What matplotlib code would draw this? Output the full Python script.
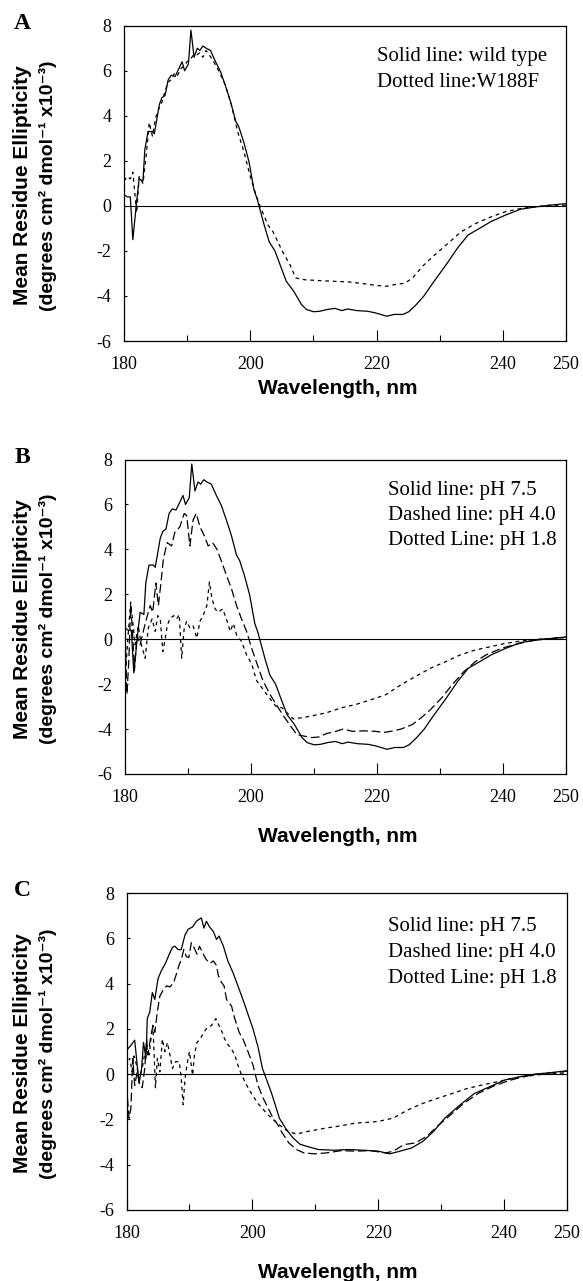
import matplotlib
matplotlib.use("Agg")
import matplotlib.pyplot as plt

plt.rcParams["axes.unicode_minus"] = False

# panel A: wild type (solid) and W188F (dotted)
wt_x = [180.0, 180.5, 181.0, 181.4, 182.0, 182.4, 183.0, 183.3, 183.8, 184.5, 184.8, 185.6,
        186.0, 186.5, 187.0, 187.5, 188.1, 188.7, 189.2, 189.6, 190.2, 190.6, 191.1, 191.6,
        192.0, 192.5, 193.0, 193.7, 194.5, 195.3, 196.1, 196.9, 197.7, 198.2, 199.0, 199.8,
        200.6, 201.1, 202.2, 203.0, 203.9, 204.7, 205.7, 206.9, 208.1, 208.9, 210.0, 211.0,
        212.2, 213.4, 214.5, 215.4, 216.9, 218.6, 219.8, 221.6, 222.8, 224.2, 225.1, 226.3,
        227.5, 228.9, 231.0, 232.8, 234.5, 236.3, 238.1, 240.4, 242.8, 245.1, 247.5, 250.0]
wt_y = [0.5, 0.4, 0.4, -1.5, 0.2, 1.2, 1.1, 2.5, 3.3, 3.3, 3.2, 4.5,
        4.8, 4.9, 5.6, 5.8, 5.75, 6.1, 6.4, 6.0, 6.3, 7.8, 6.6, 7.0,
        6.9, 7.1, 7.0, 6.9, 6.4, 5.95, 5.3, 4.6, 3.75, 3.5, 2.8, 1.95,
        0.7, 0.3, -0.85, -1.6, -2.0, -2.6, -3.35, -3.8, -4.38, -4.6, -4.7, -4.68,
        -4.6, -4.55, -4.65, -4.58, -4.65, -4.68, -4.75, -4.9, -4.82, -4.82, -4.7, -4.38,
        -4.0, -3.43, -2.62, -1.88, -1.29, -1.0, -0.7, -0.41, -0.15, -0.05, 0.03, 0.1]

w188f_x = [180.0, 180.5, 181.0, 181.4, 182.0, 182.4, 183.0, 183.5, 184.0, 184.5, 185.0, 185.5,
           186.0, 186.5, 187.0, 187.5, 188.0, 188.5, 189.0, 189.5, 190.0, 190.5, 191.0, 191.5,
           192.0, 192.5, 193.0, 193.5, 194.0, 195.0, 196.0, 197.0, 198.0, 199.0, 200.0, 201.0,
           201.6, 202.8, 203.6, 205.1, 206.3, 207.2, 208.6, 211.0, 213.4, 215.7, 218.1, 219.8,
           221.6, 222.8, 224.5, 225.7, 227.5, 229.2, 231.0, 233.4, 235.7, 238.1, 240.4, 242.8,
           245.1, 247.5, 250.0]
w188f_y = [1.1, 1.3, 1.2, 1.5, -0.3, 1.3, 1.0, 2.2, 3.7, 3.1, 3.9, 4.3,
           4.6, 5.1, 5.5, 5.6, 5.9, 5.8, 6.1, 6.2, 6.4, 6.5, 6.7, 6.7,
           6.8, 6.6, 6.9, 6.7, 6.5, 6.0, 5.4, 4.5, 3.3, 2.4, 1.3, 0.4,
           -0.05, -0.85, -1.15, -2.03, -2.62, -3.2, -3.28, -3.32, -3.35, -3.38, -3.46, -3.53,
           -3.57, -3.5, -3.43, -3.2, -2.62, -2.18, -1.74, -1.15, -0.78, -0.49, -0.26, -0.12,
           -0.04, 0.03, 0.03]

# panel B: pH 7.5 is the wild type curve above
b40_x = [180.0, 180.1, 180.3, 180.6, 180.9, 181.2, 181.5, 181.9, 182.4, 182.9, 183.4, 184.0,
         184.4, 184.9, 185.3, 185.7, 186.1, 186.7, 187.4, 187.9, 188.7, 189.4, 189.8, 190.3,
         190.8, 191.3, 191.9, 192.6, 193.2, 193.9, 194.6, 195.4, 196.1, 196.9, 197.7, 198.5,
         199.3, 200.1, 200.9, 201.9, 203.0, 204.0, 204.9, 206.1, 207.3, 208.2, 209.6, 210.8,
         212.0, 213.5, 214.6, 216.1, 217.9, 219.7, 221.1, 222.6, 223.8, 225.6, 227.0, 228.5,
         230.3, 232.0, 233.8, 235.6, 237.3, 239.7, 242.0, 244.4, 246.2, 247.9, 250.0]
b40_y = [0.3, -0.5, -2.45, -1.0, 1.5, 0.3, -1.4, 0.2, -0.25, 0.35, 0.9, 1.5,
         1.2, 2.5, 1.5, 2.5, 3.6, 4.3, 4.15, 4.75, 5.0, 5.6, 5.5, 4.15,
         5.3, 5.6, 5.0, 4.6, 4.15, 4.3, 4.0, 3.4, 2.85, 2.25, 1.5, 0.9,
         0.35, -0.4, -1.05, -1.85, -2.45, -2.9, -3.3, -3.8, -4.25, -4.3, -4.38, -4.35,
         -4.2, -4.1, -4.0, -4.1, -4.08, -4.1, -4.15, -4.08, -4.0, -3.8, -3.5, -3.13,
         -2.6, -2.0, -1.44, -1.0, -0.7, -0.41, -0.23, -0.07, 0.0, 0.03, 0.1]

b18_x = [180.0, 180.5, 180.9, 181.3, 181.6, 182.1, 182.6, 183.2, 183.7, 184.3, 184.8, 185.2,
         185.6, 186.0, 186.4, 186.7, 187.1, 187.7, 188.2, 188.6, 189.0, 189.4, 189.8, 190.3,
         190.8, 191.4, 191.9, 192.4, 193.0, 193.4, 193.8, 194.3, 194.8, 195.5, 196.1, 196.7,
         197.2, 197.7, 198.5, 199.3, 200.1, 200.9, 201.7, 202.5, 203.3, 204.0, 204.9, 206.7,
         207.9, 209.6, 212.0, 214.4, 216.7, 219.1, 221.4, 223.8, 226.1, 228.5, 230.9, 233.2,
         235.6, 237.9, 240.3, 242.6, 245.0, 247.4, 250.0]
b18_y = [-1.8, 0.2, 1.65, 0.6, -0.25, 0.6, -0.25, -0.85, 0.5, 0.9, 0.35, 1.05,
         0.9, -0.55, 0.05, 0.6, 0.9, 1.05, 0.9, 1.1, -0.85, 0.5, 0.8, 0.5,
         0.6, 0.05, 0.8, 1.05, 1.5, 2.55, 1.8, 1.35, 1.2, 1.35, 0.9, 0.35,
         0.7, 0.2, -0.1, -0.7, -1.1, -1.85, -2.15, -2.45, -2.75, -3.0, -3.05, -3.55,
         -3.5, -3.42, -3.27, -3.05, -2.9, -2.69, -2.47, -2.03, -1.66, -1.29, -1.0, -0.7,
         -0.48, -0.34, -0.19, -0.09, -0.01, 0.03, 0.07]

# panel C
c75_x = [180.0, 180.7, 181.3, 181.7, 182.0, 182.4, 182.7, 183.1, 183.3, 183.7, 184.1, 184.5,
         185.0, 185.5, 186.2, 186.8, 187.3, 187.7, 188.2, 188.7, 189.3, 189.8, 190.5, 191.1,
         191.6, 191.9, 192.3, 192.7, 193.2, 193.8, 194.3, 194.7, 195.4, 196.1, 196.9, 197.7,
         198.5, 199.3, 200.1, 200.9, 201.6, 202.2, 203.0, 203.8, 204.3, 205.3, 206.4, 207.6,
         208.8, 210.5, 212.9, 215.3, 217.6, 220.0, 221.8, 223.5, 225.3, 227.1, 228.8, 230.6,
         233.0, 235.3, 237.7, 240.1, 242.4, 244.8, 247.2, 250.0]
c75_y = [1.05, 1.27, 1.5, 0.4, -0.4, 0.25, 1.4, 0.7, 2.45, 2.75, 3.6, 3.3,
         4.2, 4.55, 4.9, 5.3, 5.6, 5.65, 5.5, 5.5, 6.15, 6.4, 6.5, 6.75,
         6.85, 6.9, 6.45, 6.75, 6.5, 6.3, 5.95, 6.1, 5.65, 5.0, 4.5, 3.9,
         3.3, 2.65, 2.0, 1.2, 0.25, -0.2, -0.8, -1.5, -1.95, -2.4, -2.8, -3.1,
         -3.2, -3.33, -3.36, -3.33, -3.36, -3.4, -3.52, -3.4, -3.26, -2.97, -2.53, -1.94,
         -1.36, -0.85, -0.56, -0.26, -0.12, 0.0, 0.06, 0.15]

c40_x = [180.0, 180.4, 180.7, 181.0, 181.3, 181.7, 182.1, 182.5, 182.9, 183.2, 183.4, 183.8,
         184.2, 184.5, 184.9, 185.3, 185.8, 186.4, 186.9, 187.5, 187.9, 188.4, 188.7, 189.1,
         189.5, 189.9, 190.3, 190.8, 191.2, 191.6, 192.2, 192.7, 193.3, 193.8, 194.3, 194.6,
         195.1, 195.5, 195.9, 196.7, 197.2, 197.9, 198.5, 199.3, 200.1, 200.9, 201.7, 202.5,
         203.3, 204.1, 204.6, 205.8, 207.0, 208.2, 209.9, 211.7, 214.1, 216.4, 218.8, 221.2,
         222.4, 224.1, 225.9, 227.7, 229.4, 231.2, 233.6, 235.9, 238.3, 240.7, 243.0, 245.4,
         247.7, 250.0]
c40_y = [-0.5, -1.95, -1.5, 0.7, -0.5, 0.1, -0.5, -0.6, 0.25, 1.55, 0.85, 1.55,
         2.15, 1.85, 2.75, 3.45, 3.7, 3.9, 3.85, 4.05, 4.4, 4.85, 5.05, 5.5,
         5.2, 5.15, 5.8, 5.55, 5.3, 5.65, 5.3, 5.05, 4.9, 5.0, 4.8, 4.35,
         4.05, 3.9, 3.3, 3.0, 2.45, 1.85, 1.55, 1.0, 0.4, -0.5, -1.05, -1.5,
         -1.95, -2.25, -2.53, -3.04, -3.33, -3.48, -3.52, -3.48, -3.38, -3.4, -3.38, -3.48,
         -3.4, -3.11, -3.04, -2.75, -2.3, -1.87, -1.29, -0.85, -0.53, -0.29, -0.12, 0.0,
         0.06, 0.13]

c18_x = [180.0, 180.5, 180.9, 181.2, 181.6, 182.0, 182.5, 183.1, 183.6, 184.0, 184.2, 184.6,
         184.9, 185.3, 185.7, 186.1, 186.5, 186.9, 187.3, 187.8, 188.4, 188.7, 189.0, 189.3,
         189.6, 190.0, 190.5, 190.8, 191.2, 191.7, 192.3, 192.8, 193.5, 194.2, 194.7, 195.2,
         195.6, 196.2, 196.7, 197.2, 197.7, 198.3, 199.5, 200.9, 202.5, 204.1, 205.5, 207.0,
         208.8, 211.7, 214.1, 216.4, 218.8, 220.0, 222.4, 224.7, 227.1, 229.4, 231.8, 234.2,
         236.5, 238.9, 241.3, 243.6, 246.0, 248.3, 250.0]
c18_y = [0.3, 0.7, 0.1, 0.8, 0.4, -0.2, 0.25, 1.27, 0.85, 1.85, 2.15, -0.6,
         0.7, 0.1, 1.55, 1.0, 1.4, 0.85, 0.25, 0.55, 0.55, -0.2, -1.35, -0.2,
         0.4, 1.0, -0.05, 0.85, 1.4, 1.55, 1.85, 2.05, 2.15, 2.45, 2.15, 1.85,
         1.55, 1.27, 1.1, 0.85, 0.4, -0.05, -0.7, -1.3, -1.8, -2.2, -2.5, -2.65,
         -2.53, -2.38, -2.28, -2.16, -2.12, -2.09, -1.94, -1.58, -1.29, -1.07, -0.85, -0.63,
         -0.48, -0.34, -0.19, -0.09, -0.01, 0.03, 0.06]

x_ticks = [180, 200, 220, 240, 250]
y_ticks = [-6, -4, -2, 0, 2, 4, 6, 8]
notes_a = ["Solid line: wild type", "Dotted line:W188F"]
notes_bc = ["Solid line: pH 7.5", "Dashed line: pH 4.0", "Dotted Line: pH 1.8"]

SOLID = "-"
DASHED = (0, (7, 3))
DOTTED = (0, (3, 3))

W, H = 583, 1281
fig = plt.figure(figsize=(W / 100, H / 100), dpi=100)


def px(x0, y0, x1, y1):
    return [x0 / W, 1 - y1 / H, (x1 - x0) / W, (y1 - y0) / H]


def panel(box, letter, curves, notes, note_pos, xlab_y):
    ax = fig.add_axes(px(*box))
    for x, y, ls in curves:
        ax.plot(x, y, color="black", lw=0.9, linestyle=ls)
    ax.axhline(0, color="black", lw=0.8)
    ax.set_xlim(180, 250)
    ax.set_ylim(-6, 8)
    ax.set_xticks(x_ticks)
    ax.set_xticks([190, 210, 230], minor=True)
    ax.set_yticks(y_ticks)
    ax.tick_params(axis="x", which="major", direction="in", length=8, width=0.8, pad=11)
    ax.tick_params(axis="x", which="minor", direction="in", length=4, width=0.8)
    ax.tick_params(axis="y", direction="in", length=2.5, width=0.8, pad=9)
    for lab in ax.get_xticklabels() + ax.get_yticklabels():
        lab.set_family("Liberation Serif")
        lab.set_fontsize(13)
    for sp in ax.spines.values():
        sp.set_linewidth(0.9)

    nx, ny = note_pos
    for i, s in enumerate(notes):
        fig.text(nx / W, 1 - (ny + 25.5 * i) / H, s, family="Liberation Serif",
                 fontsize=15, ha="left", va="center")

    x0, y0, x1, y1 = box
    fig.text(22 / W, 1 - (y0 - 2) / H, letter, family="Liberation Serif",
             fontweight="bold", fontsize=17, ha="center", va="center")
    yc = (y0 + y1) / 2 + 2
    fig.text(23 / W, 1 - yc / H, "Mean Residue Ellipticity", rotation=90,
             family="Liberation Sans", fontweight="bold", fontsize=15,
             ha="center", va="center")
    fig.text(48 / W, 1 - yc / H, "(degrees cm\u00b2 dmol\u207b\u00b9 x10\u207b\u00b3)",
             rotation=90, family=["Liberation Sans", "DejaVu Sans"], fontweight="bold",
             fontsize=14, ha="center", va="center")
    fig.text(338 / W, 1 - xlab_y / H, "Wavelength, nm", family="Liberation Sans",
             fontweight="bold", fontsize=15, ha="center", va="center")
    return ax


panel((124, 25.7, 566, 341), "A",
      [(wt_x, wt_y, SOLID), (w188f_x, w188f_y, DOTTED)],
      notes_a, (377, 57), 389)
panel((125, 459.5, 566, 774), "B",
      [(wt_x, wt_y, SOLID), (b40_x, b40_y, DASHED), (b18_x, b18_y, DOTTED)],
      notes_bc, (388, 490), 837)
panel((126.5, 893, 567, 1210), "C",
      [(c75_x, c75_y, SOLID), (c40_x, c40_y, DASHED), (c18_x, c18_y, DOTTED)],
      notes_bc, (388, 927), 1273)

fig.savefig("out.png", dpi=100)
